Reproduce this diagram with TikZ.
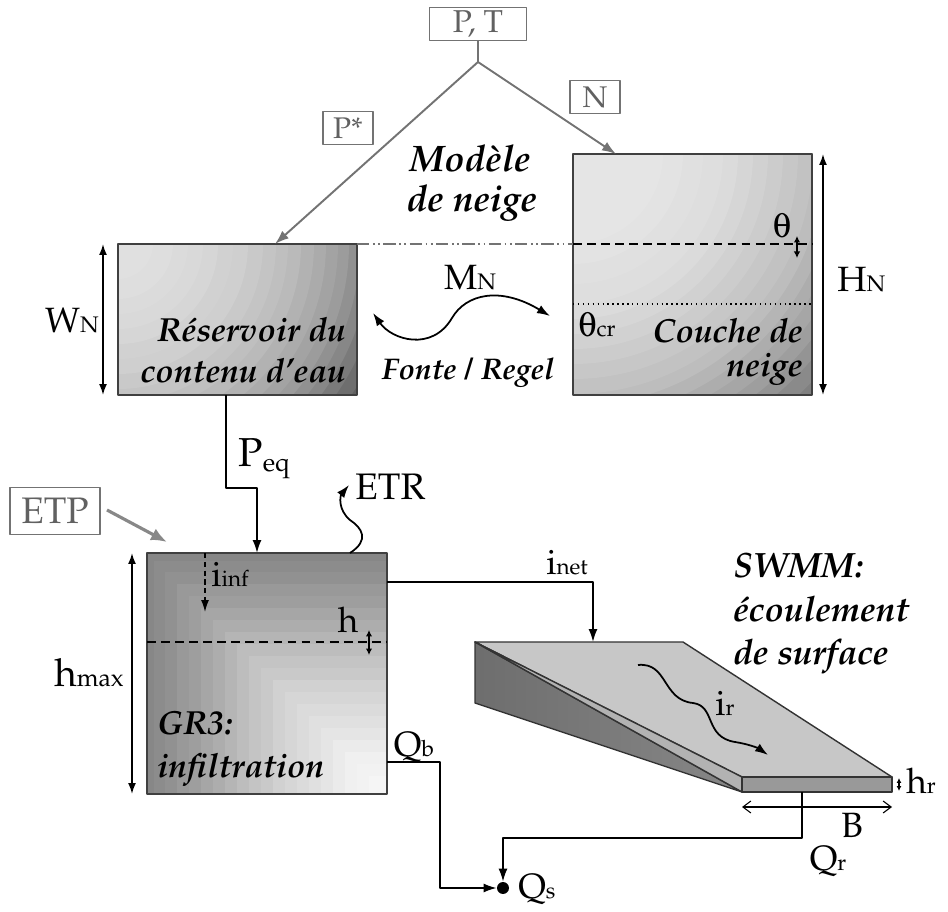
\documentclass[tikz,border=0pt]{standalone}
\usepackage[T1]{fontenc}
\usepackage{mathpazo}
\usepackage[Symbol]{upgreek}
\usetikzlibrary{arrows.meta}
\definecolor{linegray}{gray}{0.45}
\newcommand{\idx}[1]{\scalebox{0.64}{#1}}
\pgfdeclarehorizontalshading{sideshade}{100bp}{color(0bp)=(black!62); color(100bp)=(black!42)}
\begin{document}
\begin{tikzpicture}[x=0.02cm, y=-0.02cm, line join=round,
    flow/.style={line width=1pt, -{Latex[length=2.6mm,width=1.8mm]}},
    gflow/.style={linegray, line width=1.1pt, -{Latex[length=2.8mm,width=2mm]}},
    dim/.style={line width=1pt, {Latex[length=2.2mm,width=1.6mm]}-{Latex[length=2.2mm,width=1.6mm]}},
    tiny/.style={line width=0.7pt, {Latex[length=1.3mm,width=1.3mm]}-{Latex[length=1.3mm,width=1.3mm]}},
    tag/.style={draw=linegray, line width=1pt, text=black!62, inner sep=0pt, minimum height=0.66cm},
    tank/.style={draw=black!75, line width=1pt, inner sep=0pt, outer sep=0pt},
    lbl/.style={inner sep=0pt, font=\fontsize{20}{23}\selectfont},
    ttl/.style={inner sep=0pt, font=\fontsize{19}{22}\selectfont\bfseries\itshape}]
\useasboundingbox (0,0) rectangle (948,912);

% snow model
\node[tag, minimum width=1.94cm, font=\fontsize{18}{20}\selectfont] (pt) at (478,24) {P, T};
\node[tag, minimum width=1cm, font=\fontsize{17}{19}\selectfont] (ntag) at (595,97) {N};
\node[tag, minimum width=1cm, font=\fontsize{17}{19}\selectfont] (ptag) at (348,128) {P*};
\node[ttl, anchor=base, font=\fontsize{21}{24}\selectfont\bfseries\itshape] (mod1) at (470,172) {Mod\`ele};
\node[ttl, anchor=base, font=\fontsize{21}{24}\selectfont\bfseries\itshape] (mod2) at (472,212) {de neige};

\begin{scope}
  \clip (118,244) rectangle (357,395);
  \foreach \r/\c in {290/62, 278/57, 265/52, 253/47, 242/43, 231/39, 220/36, 208/33, 196/30, 183/27,
                     170/25, 158/23, 145/21, 130/19, 115/18, 100/16, 85/15, 70/14, 55/13, 35/12}
    \fill[black!\c] (118,244) circle [radius={\r*0.02cm}];
\end{scope}
\begin{scope}
  \clip (573,154) rectangle (812,395);
  \foreach \r/\c in {345/50, 330/46, 315/42, 302/38, 290/35, 277/32, 265/29, 252/26, 240/24, 225/22,
                     210/20, 195/18, 180/16, 165/14, 150/13, 130/12, 110/11, 90/10}
    \fill[black!\c] (573,154) circle [radius={\r*0.02cm}];
\end{scope}
\node[tank, minimum width=4.78cm, minimum height=3.02cm] (res) at (237.5,319.5) {};
\node[tank, minimum width=4.78cm, minimum height=4.82cm] (snow) at (692.5,274.5) {};
\coordinate (split) at (478,62);
\coordinate (resin) at (275,244);
\coordinate (snowin) at (616,154);
\draw[linegray, line width=1.1pt] (pt) -- (split);
\draw[gflow] (split) -- (resin);
\draw[gflow] (split) -- (snowin);

\coordinate (lvl0) at (357,244);
\coordinate (lvl1) at (573,244);
\coordinate (lvl2) at (812,244);
\draw[linegray, line width=0.8pt, dash pattern=on 7pt off 2pt on 1pt off 2pt on 1pt off 2pt] (lvl0) -- (lvl1);
\draw[line width=0.8pt, dash pattern=on 5pt off 3pt] (lvl1) -- (lvl2);
\draw[line width=0.8pt, dotted] (573,304) -- (812,304);

\node[ttl, anchor=base east] (res1) at (346,342) {R\'eservoir du};
\node[ttl, anchor=base east] (res2) at (346,383) {contenu d'eau};
\node[ttl, anchor=base east] (snow1) at (803,343) {Couche de};
\node[ttl, anchor=base east] (snow2) at (803,377) {neige};

\draw[dim] (103,244) -- (103,395);
\node[lbl, anchor=base] (wn) at (72,333) {W\idx{N}};
\draw[dim] (823,154) -- (823,395);
\node[lbl, anchor=base west] (hn) at (837,292) {H\idx{N}};
\node[lbl, anchor=base] (th) at (782,238) {$\uptheta$};
\draw[tiny] (797,236) -- (797,258);
\node[lbl, anchor=base west] (thcr) at (578,337) {$\uptheta$\idx{cr}};

\node[lbl, anchor=base] (mn) at (470,290) {M\idx{N}};
\draw[line width=1pt, {Latex[length=2.6mm,width=1.8mm]}-{Latex[length=2.6mm,width=1.8mm]}]
  (373,313) .. controls (392,340) and (432,352) .. (452,318)
  .. controls (466,294) and (500,286) .. (550,316);
\node[ttl, anchor=base, font=\fontsize{17}{19}\selectfont\bfseries\itshape] (fonte) at (468,380) {Fonte / Regel};

% GR3
\begin{scope}
  \clip (147,553) rectangle (387,794);
  \foreach \s/\c in {245/47, 233/45, 222/43, 210/40, 198/38, 186/35, 174/32, 162/29, 150/26, 138/23,
                     126/21, 114/18, 102/16, 90/14, 78/12, 66/10, 54/8, 42/6, 30/5, 18/4}
    \fill[black!\c] (387-\s,794-\s) rectangle (387,794);
\end{scope}
\node[tank, minimum width=4.8cm, minimum height=4.82cm] (gr) at (267,673.5) {};
\coordinate (resout) at (226,395);
\coordinate (peq1) at (226,488);
\coordinate (peq2) at (257,488);
\coordinate (grin) at (257,553);
\draw[flow] (resout) -- (peq1) -- (peq2) -- (grin);
\node[lbl, anchor=base, font=\fontsize{23}{26}\selectfont] (peq) at (264,467) {P\raisebox{-0.25ex}{\idx{eq}}};

\coordinate (etr0) at (350,553);
\coordinate (etr1) at (349,485);
\draw[flow] (etr0) .. controls (370,540) and (362,528) .. (350,520) .. controls (338,510) and (340,496) .. (etr1);
\node[lbl, anchor=base west, font=\fontsize{21}{24}\selectfont] (etr) at (355,500) {ETR};

\node[tag, minimum width=1.8cm, minimum height=0.94cm, font=\fontsize{21}{24}\selectfont] (etp) at (55,511) {ETP};
\coordinate (etpend) at (167,542);
\draw[linegray!85, line width=1.8pt, -{Latex[length=3.2mm,width=2.6mm]}] (107,510) -- (etpend);

\draw[dim] (132,553) -- (132,794);
\node[lbl, anchor=base, font=\fontsize{22}{25}\selectfont] (hmax) at (89,686) {h\idx{max}};
\draw[line width=0.8pt, dash pattern=on 3pt off 2pt, -{Latex[length=2.4mm,width=1.6mm]}] (205,553) -- (205,612);
\node[lbl, anchor=base west] (iinf) at (211,587) {i\idx{inf}};
\draw[line width=0.8pt, dash pattern=on 5pt off 3pt] (147,642) -- (387,642);
\node[lbl, anchor=base] (h) at (348,633) {h};
\draw[tiny] (369,630) -- (369,655);
\node[ttl, anchor=base west] (gr1) at (157,735) {GR3:};
\node[ttl, anchor=base west] (gr2) at (157,778) {infiltration};

% SWMM
\fill[black!22, draw=black!80, line width=0.8pt] (475,642) -- (683,642) -- (892,777) -- (742,777) -- cycle;
\shade[shading=sideshade, draw=black!80, line width=0.8pt] (475,642) -- (742,792) -- (475,703) -- cycle;
\fill[black!30, draw=black!80, line width=0.8pt] (475,642) -- (742,777) -- (742,792) -- cycle;
\fill[black!40, draw=black!80, line width=0.8pt] (742,777) rectangle (892,792);
\node[ttl, anchor=base west, font=\fontsize{20}{23}\selectfont\bfseries\itshape] (sw1) at (733,578) {SWMM:};
\node[ttl, anchor=base west, font=\fontsize{20}{23}\selectfont\bfseries\itshape] (sw2) at (733,622) {\'ecoulement};
\node[ttl, anchor=base west, font=\fontsize{20}{23}\selectfont\bfseries\itshape] (sw3) at (733,664) {de surface};

\coordinate (grout) at (387,582);
\coordinate (inet) at (593,582);
\coordinate (slabin) at (593,642);
\draw[flow] (grout) -- (inet) -- (slabin);
\node[lbl, anchor=base] (inetl) at (567,575) {i\idx{net}};

\coordinate (ir0) at (638,665);
\coordinate (ir1) at (768,755);
\draw[flow] (ir0) .. controls (668,662) and (662,700) .. (693,703) .. controls (716,706) and (704,737) .. (735,742) .. controls (748,744) and (758,748) .. (ir1);
\node[lbl, anchor=base] (irl) at (725,716) {i\idx{r}};

\draw[line width=0.6pt, {Straight Barb[length=1.6mm,width=2.4mm]}-{Straight Barb[length=1.6mm,width=2.4mm]}] (742,807) -- (892,807);
\node[lbl, anchor=base] (bl) at (852,837) {B};
\draw[line width=0.6pt, {Latex[length=1mm,width=1mm]}-{Latex[length=1mm,width=1mm]}] (899,778) -- (899,791);
\node[lbl, anchor=base west] (hr) at (906,793) {h\idx{r}};

% outlet
\node[circle, fill=black, inner sep=0pt, minimum size=0.24cm] (qs) at (503,888) {};
\node[lbl, anchor=base west] (qsl) at (518,898) {Q\idx{s}};
\coordinate (qb0) at (387,762);
\coordinate (qb1) at (440,762);
\coordinate (qb2) at (440,888);
\draw[flow] (qb0) -- (qb1) -- (qb2) -- (qs);
\node[lbl, anchor=base] (qbl) at (414,757) {Q\idx{b}};
\coordinate (qr0) at (802,792);
\coordinate (qr1) at (802,838);
\coordinate (qr2) at (503,838);
\draw[flow] (qr0) -- (qr1) -- (qr2) -- (qs);
\node[lbl, anchor=base] (qrl) at (828,870) {Q\idx{r}};
\end{tikzpicture}
\end{document}
